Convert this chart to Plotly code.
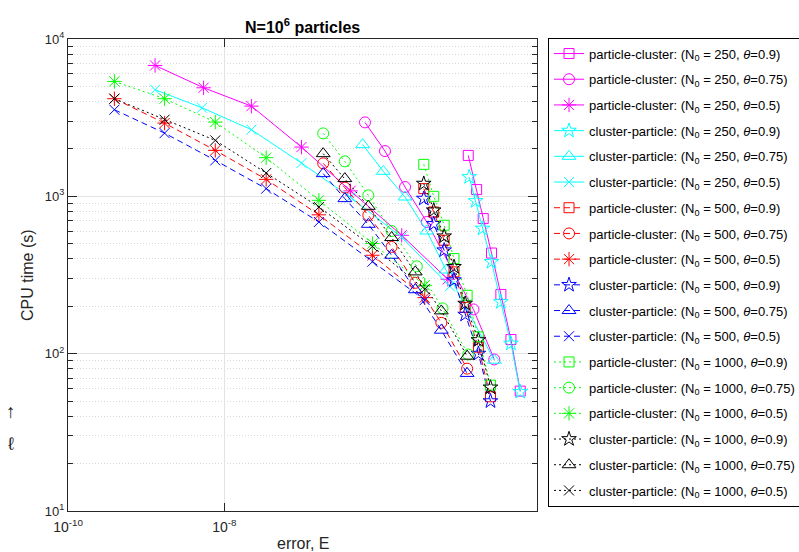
import plotly.graph_objects as go

# ---------------- data ----------------
labels = [
    "particle-cluster: (N<sub>0</sub> = 250, <i>θ</i>=0.9)",
    "particle-cluster: (N<sub>0</sub> = 250, <i>θ</i>=0.75)",
    "particle-cluster: (N<sub>0</sub> = 250, <i>θ</i>=0.5)",
    "cluster-particle: (N<sub>0</sub> = 250, <i>θ</i>=0.9)",
    "cluster-particle: (N<sub>0</sub> = 250, <i>θ</i>=0.75)",
    "cluster-particle: (N<sub>0</sub> = 250, <i>θ</i>=0.5)",
    "particle-cluster: (N<sub>0</sub> = 500, <i>θ</i>=0.9)",
    "particle-cluster: (N<sub>0</sub> = 500, <i>θ</i>=0.75)",
    "particle-cluster: (N<sub>0</sub> = 500, <i>θ</i>=0.5)",
    "cluster-particle: (N<sub>0</sub> = 500, <i>θ</i>=0.9)",
    "cluster-particle: (N<sub>0</sub> = 500, <i>θ</i>=0.75)",
    "cluster-particle: (N<sub>0</sub> = 500, <i>θ</i>=0.5)",
    "particle-cluster: (N<sub>0</sub> = 1000, <i>θ</i>=0.9)",
    "particle-cluster: (N<sub>0</sub> = 1000, <i>θ</i>=0.75)",
    "particle-cluster: (N<sub>0</sub> = 1000, <i>θ</i>=0.5)",
    "cluster-particle: (N<sub>0</sub> = 1000, <i>θ</i>=0.9)",
    "cluster-particle: (N<sub>0</sub> = 1000, <i>θ</i>=0.75)",
    "cluster-particle: (N<sub>0</sub> = 1000, <i>θ</i>=0.5)",
]

# N0 = 250
pc250_09_err = [1.32e-5, 1.69e-5, 2.05e-5, 2.62e-5, 3.45e-5, 4.64e-5, 6.1e-5]
pc250_09_time = [1820, 1104, 722, 436, 238, 123, 57.8]
pc250_075_err = [6.30e-7, 1.135e-6, 2.05e-6, 3.89e-6, 1.54e-5, 2.84e-5]
pc250_075_time = [2951, 1940, 1146, 687, 191, 91.9]
pc250_05_err = [1.30e-9, 5.43e-9, 2.22e-8, 9.70e-8, 4.12e-7, 1.86e-6, 7.23e-6]
pc250_05_time = [6790, 4898, 3745, 2056, 1083, 565, 297]
cp250_09_err = [1.356e-5, 1.64e-5, 2.01e-5, 2.62e-5, 3.45e-5, 4.64e-5, 6.1e-5]
cp250_09_time = [1326, 934, 624, 383, 213, 116, 57.2]
cp250_075_err = [5.88e-7, 1.08e-6, 2.05e-6, 3.89e-6, 6.87e-6, 2.84e-5]
cp250_075_time = [2130, 1442, 990, 602, 340, 90.9]
cp250_05_err = [1.30e-9, 5.18e-9, 2.22e-8, 9.70e-8, 4.12e-7, 1.86e-6, 7.68e-6]
cp250_05_time = [4759, 3657, 2652, 1627, 986, 549, 268]

# N0 = 500
pc500_09_err = [3.56e-6, 4.77e-6, 6.49e-6, 8.67e-6, 1.205e-5, 1.78e-5, 2.54e-5]
pc500_09_time = [1119, 795, 526, 331, 197, 110, 53.2]
pc500_075_err = [1.84e-7, 3.48e-7, 6.95e-7, 1.38e-6, 2.77e-6, 5.97e-6, 1.277e-5]
pc500_075_time = [1620, 1136, 758, 477, 282, 157, 80.3]
pc500_05_err = [3.92e-10, 1.72e-9, 7.66e-9, 3.43e-8, 1.62e-7, 7.84e-7, 3.66e-6]
pc500_05_time = [4173, 2920, 1959, 1282, 763, 422, 227]
cp500_09_err = [3.56e-6, 4.77e-6, 6.49e-6, 8.67e-6, 1.205e-5, 1.78e-5, 2.54e-5]
cp500_09_time = [967, 668, 454, 293, 177, 100, 49.9]
cp500_075_err = [1.84e-7, 3.48e-7, 6.95e-7, 1.38e-6, 2.77e-6, 5.97e-6, 1.277e-5]
cp500_075_time = [1394, 967, 664, 422, 255, 141, 74.9]
cp500_05_err = [3.92e-10, 1.72e-9, 7.66e-9, 3.43e-8, 1.62e-7, 7.84e-7, 3.66e-6]
cp500_05_time = [3552, 2523, 1693, 1119, 687, 384, 219]

# N0 = 1000
pc1000_09_err = [3.56e-6, 4.77e-6, 6.49e-6, 8.67e-6, 1.277e-5, 1.78e-5, 2.54e-5]
pc1000_09_time = [1597, 1000, 655, 402, 235, 128, 63.1]
pc1000_075_err = [1.84e-7, 3.48e-7, 6.95e-7, 1.38e-6, 2.90e-6, 6.18e-6, 1.32e-5]
pc1000_075_time = [2512, 1668, 1015, 602, 359, 194, 98.8]
pc1000_05_err = [3.92e-10, 1.72e-9, 7.66e-9, 3.43e-8, 1.62e-7, 7.84e-7, 3.66e-6]
pc1000_05_time = [5375, 4173, 2963, 1761, 943, 501, 272]
cp1000_09_err = [3.56e-6, 4.77e-6, 6.49e-6, 8.67e-6, 1.205e-5, 1.78e-5, 2.54e-5]
cp1000_09_time = [1204, 815, 557, 356, 208, 122, 61.0]
cp1000_075_err = [1.84e-7, 3.48e-7, 6.95e-7, 1.38e-6, 2.77e-6, 5.97e-6, 1.277e-5]
cp1000_075_time = [1867, 1296, 864, 547, 331, 187, 96.4]
cp1000_05_err = [3.92e-10, 1.72e-9, 7.66e-9, 3.43e-8, 1.62e-7, 7.84e-7, 3.66e-6]
cp1000_05_time = [4173, 3069, 2268, 1406, 855, 481, 257]

x_tick_vals = [1e-10, 1e-8]
x_tick_text = ["10<sup>-10</sup>", "10<sup>-8</sup>"]
y_tick_vals = [10, 100, 1000, 10000]
y_tick_text = ["10<sup>1</sup>", "10<sup>2</sup>", "10<sup>3</sup>", "10<sup>4</sup>"]

series = [
    (pc250_09_err, pc250_09_time), (pc250_075_err, pc250_075_time), (pc250_05_err, pc250_05_time),
    (cp250_09_err, cp250_09_time), (cp250_075_err, cp250_075_time), (cp250_05_err, cp250_05_time),
    (pc500_09_err, pc500_09_time), (pc500_075_err, pc500_075_time), (pc500_05_err, pc500_05_time),
    (cp500_09_err, cp500_09_time), (cp500_075_err, cp500_075_time), (cp500_05_err, cp500_05_time),
    (pc1000_09_err, pc1000_09_time), (pc1000_075_err, pc1000_075_time), (pc1000_05_err, pc1000_05_time),
    (cp1000_09_err, cp1000_09_time), (cp1000_075_err, cp1000_075_time), (cp1000_05_err, cp1000_05_time),
]

# ---------------- styles ----------------
colors = ["#FF00FF"] * 3 + ["#00FFFF"] * 3 + ["#FF0000"] * 3 + ["#0000FF"] * 3 + ["#00FF00"] * 3 + ["#000000"] * 3
dashes = ["solid"] * 6 + ["6px,4px"] * 6 + ["2px,3px"] * 6
symbols = ["square-open", "circle-open", "asterisk-open", "star-open", "triangle-up-open", "x-thin-open"] * 3
sizes = [10, 11, 12, 11, 12, 10] * 3

fig = go.Figure()
for i, ((xs, ys), name) in enumerate(zip(series, labels)):
    fig.add_trace(go.Scatter(
        x=xs, y=ys, mode="lines+markers", name=name, legendgroup=f"g{i}",
        line=dict(color=colors[i], width=1, dash=dashes[i]),
        marker=dict(symbol=symbols[i], size=sizes[i], color=colors[i], line=dict(width=1, color=colors[i])),
    ))

axis_col = "#262626"
fig.update_xaxes(
    type="log", range=[-10, -4],
    tickmode="array", tickvals=x_tick_vals, ticktext=x_tick_text,
    showline=True, linecolor=axis_col, linewidth=1, mirror="ticks",
    ticks="inside", ticklen=8, tickcolor=axis_col, ticklabelstandoff=3,
    showgrid=True, gridcolor="#e3e3e3", gridwidth=1,
    zeroline=False,
    tickfont=dict(family="Liberation Sans, Arial", size=14, color=axis_col),
)
fig.update_yaxes(
    type="log", range=[1, 4],
    tickmode="array", tickvals=y_tick_vals, ticktext=y_tick_text,
    showline=True, linecolor=axis_col, linewidth=1, mirror="ticks",
    ticks="inside", ticklen=9, tickcolor=axis_col,
    showgrid=True, gridcolor="#e3e3e3", gridwidth=1,
    minor=dict(dtick="D1", ticks="inside", ticklen=5, tickcolor=axis_col,
               showgrid=True, gridcolor="#d6d6d6", griddash="1px,2px", gridwidth=1),
    zeroline=False,
    tickfont=dict(family="Liberation Sans, Arial", size=13, color=axis_col),
)

fig.update_layout(
    width=799, height=552,
    margin=dict(l=68, r=262, t=39, b=41, autoexpand=False),
    paper_bgcolor="white", plot_bgcolor="white",
    font=dict(family="Liberation Sans, Arial", size=13, color=axis_col),
    showlegend=True,
    legend=dict(
        x=1.0235, xanchor="left", y=1.003, yanchor="top",
        bordercolor="#000000", borderwidth=1, bgcolor="white",
        font=dict(family="Liberation Sans, Arial", size=13, color="#000000"),
        tracegroupgap=5.8, itemwidth=30, maxheight=540,
    ),
    annotations=[
        dict(text="<b>N=10<sup>6</sup> particles</b>", xref="paper", yref="paper",
             x=0.5, y=1.0265, xanchor="center", yanchor="middle", showarrow=False,
             font=dict(size=16, color="#000000")),
        dict(text="CPU time (s)", xref="paper", yref="paper", x=-0.0874, y=0.5,
             xanchor="center", yanchor="middle", textangle=-90, showarrow=False,
             font=dict(size=16, color=axis_col)),
        dict(text="error, E", xref="paper", yref="paper", x=0.5, y=-0.068,
             xanchor="center", yanchor="middle", showarrow=False,
             font=dict(size=16, color=axis_col)),
        dict(text="↑", xref="paper", yref="paper", x=-0.1215, y=0.2116,
             xanchor="center", yanchor="middle", showarrow=False,
             font=dict(size=19, color=axis_col)),
        dict(text="ℓ", xref="paper", yref="paper", x=-0.1215, y=0.1418,
             xanchor="center", yanchor="middle", showarrow=False,
             font=dict(size=18, color=axis_col)),
    ],
)

fig.write_html("out.html", config={"displayModeBar": False},
               post_script="document.body.style.margin='0px';")
